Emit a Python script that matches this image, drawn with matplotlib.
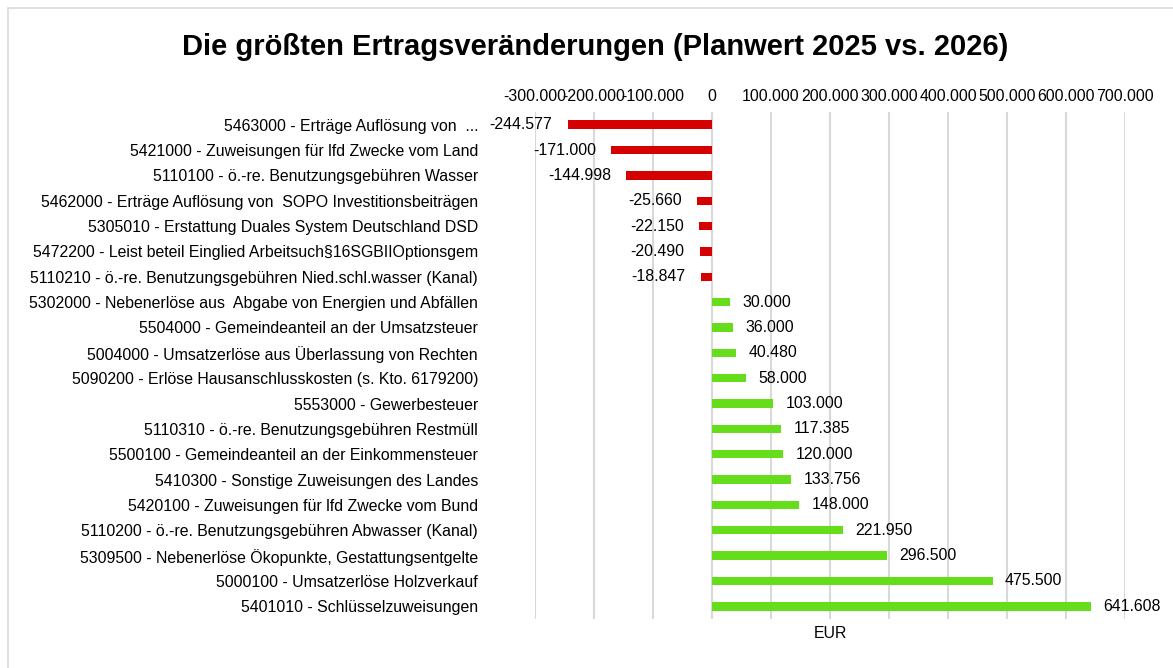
import matplotlib
matplotlib.use("Agg")
import matplotlib.pyplot as plt
from matplotlib.patches import Rectangle
from matplotlib.ticker import FuncFormatter

plt.rcParams['font.family'] = ['Liberation Sans', 'DejaVu Sans']

categories = [
    "5463000 - Erträge Auflösung von  ...",
    "5421000 - Zuweisungen für lfd Zwecke vom Land",
    "5110100 - ö.-re. Benutzungsgebühren Wasser",
    "5462000 - Erträge Auflösung von  SOPO Investitionsbeiträgen",
    "5305010 - Erstattung Duales System Deutschland DSD",
    "5472200 - Leist beteil Einglied Arbeitsuch§16SGBIIOptionsgem",
    "5110210 - ö.-re. Benutzungsgebühren Nied.schl.wasser (Kanal)",
    "5302000 - Nebenerlöse aus  Abgabe von Energien und Abfällen",
    "5504000 - Gemeindeanteil an der Umsatzsteuer",
    "5004000 - Umsatzerlöse aus Überlassung von Rechten",
    "5090200 - Erlöse Hausanschlusskosten (s. Kto. 6179200)",
    "5553000 - Gewerbesteuer",
    "5110310 - ö.-re. Benutzungsgebühren Restmüll",
    "5500100 - Gemeindeanteil an der Einkommensteuer",
    "5410300 - Sonstige Zuweisungen des Landes",
    "5420100 - Zuweisungen für lfd Zwecke vom Bund",
    "5110200 - ö.-re. Benutzungsgebühren Abwasser (Kanal)",
    "5309500 - Nebenerlöse Ökopunkte, Gestattungsentgelte",
    "5000100 - Umsatzerlöse Holzverkauf",
    "5401010 - Schlüsselzuweisungen",
]
values = [-244577, -171000, -144998, -25660, -22150, -20490, -18847,
          30000, 36000, 40480, 58000, 103000, 117385, 120000, 133756,
          148000, 221950, 296500, 475500, 641608]
x_ticks = [-300000, -200000, -100000, 0, 100000, 200000, 300000,
           400000, 500000, 600000, 700000]
title = "Die größten Ertragsveränderungen (Planwert 2025 vs. 2026)"
x_label = "EUR"

RED = "#D50000"
GREEN = "#66DD1A"
FS = 11.4


def de_fmt(v):
    s = f"{abs(int(round(v))):,}".replace(",", ".")
    return ("-" if v < 0 else "") + s


W, H = 1173, 668
fig = plt.figure(figsize=(W / 100, H / 100), dpi=100)
fig.patch.set_facecolor("white")
fig.patches.append(Rectangle((8 / W, -0.01), 1.2, 1 - 8 / H + 0.01,
                             transform=fig.transFigure, fill=False,
                             edgecolor="#D9D9D9", linewidth=1.2))

ax = fig.add_axes([535 / W, 1 - 619 / H, (1125 - 535) / W, (619 - 112) / H])
ypos = list(range(len(categories)))
colors = [RED if v < 0 else GREEN for v in values]
ax.barh(ypos, values, height=0.33, color=colors, zorder=3)
ax.set_ylim(len(categories) - 0.5, -0.5)
ax.set_xlim(x_ticks[0], x_ticks[-1])
ax.set_xticks(x_ticks)
ax.xaxis.set_major_formatter(FuncFormatter(lambda v, p: de_fmt(v)))
ax.xaxis.tick_top()
ax.tick_params(axis='x', length=0, labelsize=FS, pad=6, colors="#000000")
ax.set_yticks(ypos)
ax.set_yticklabels(categories)
ax.tick_params(axis='y', length=0, labelsize=FS, pad=41)
ax.grid(axis='x', color="#D9D9D9", linewidth=1.5, zorder=0)
for s in ax.spines.values():
    s.set_visible(False)
ax.set_xlabel(x_label, fontsize=FS, labelpad=5)
ax.xaxis.set_label_position('bottom')

for y, v in zip(ypos, values):
    if v < 0:
        ax.annotate(de_fmt(v), (v, y), xytext=(-11, 0), textcoords="offset points",
                    ha="right", va="center", fontsize=FS, zorder=4)
    else:
        ax.annotate(de_fmt(v), (v, y), xytext=(9, 0), textcoords="offset points",
                    ha="left", va="center", fontsize=FS, zorder=4)

fig.text(595 / W, 1 - 47 / H, title, ha="center", va="center",
         fontsize=21, fontweight="bold")

fig.savefig("out.png", dpi=100)
